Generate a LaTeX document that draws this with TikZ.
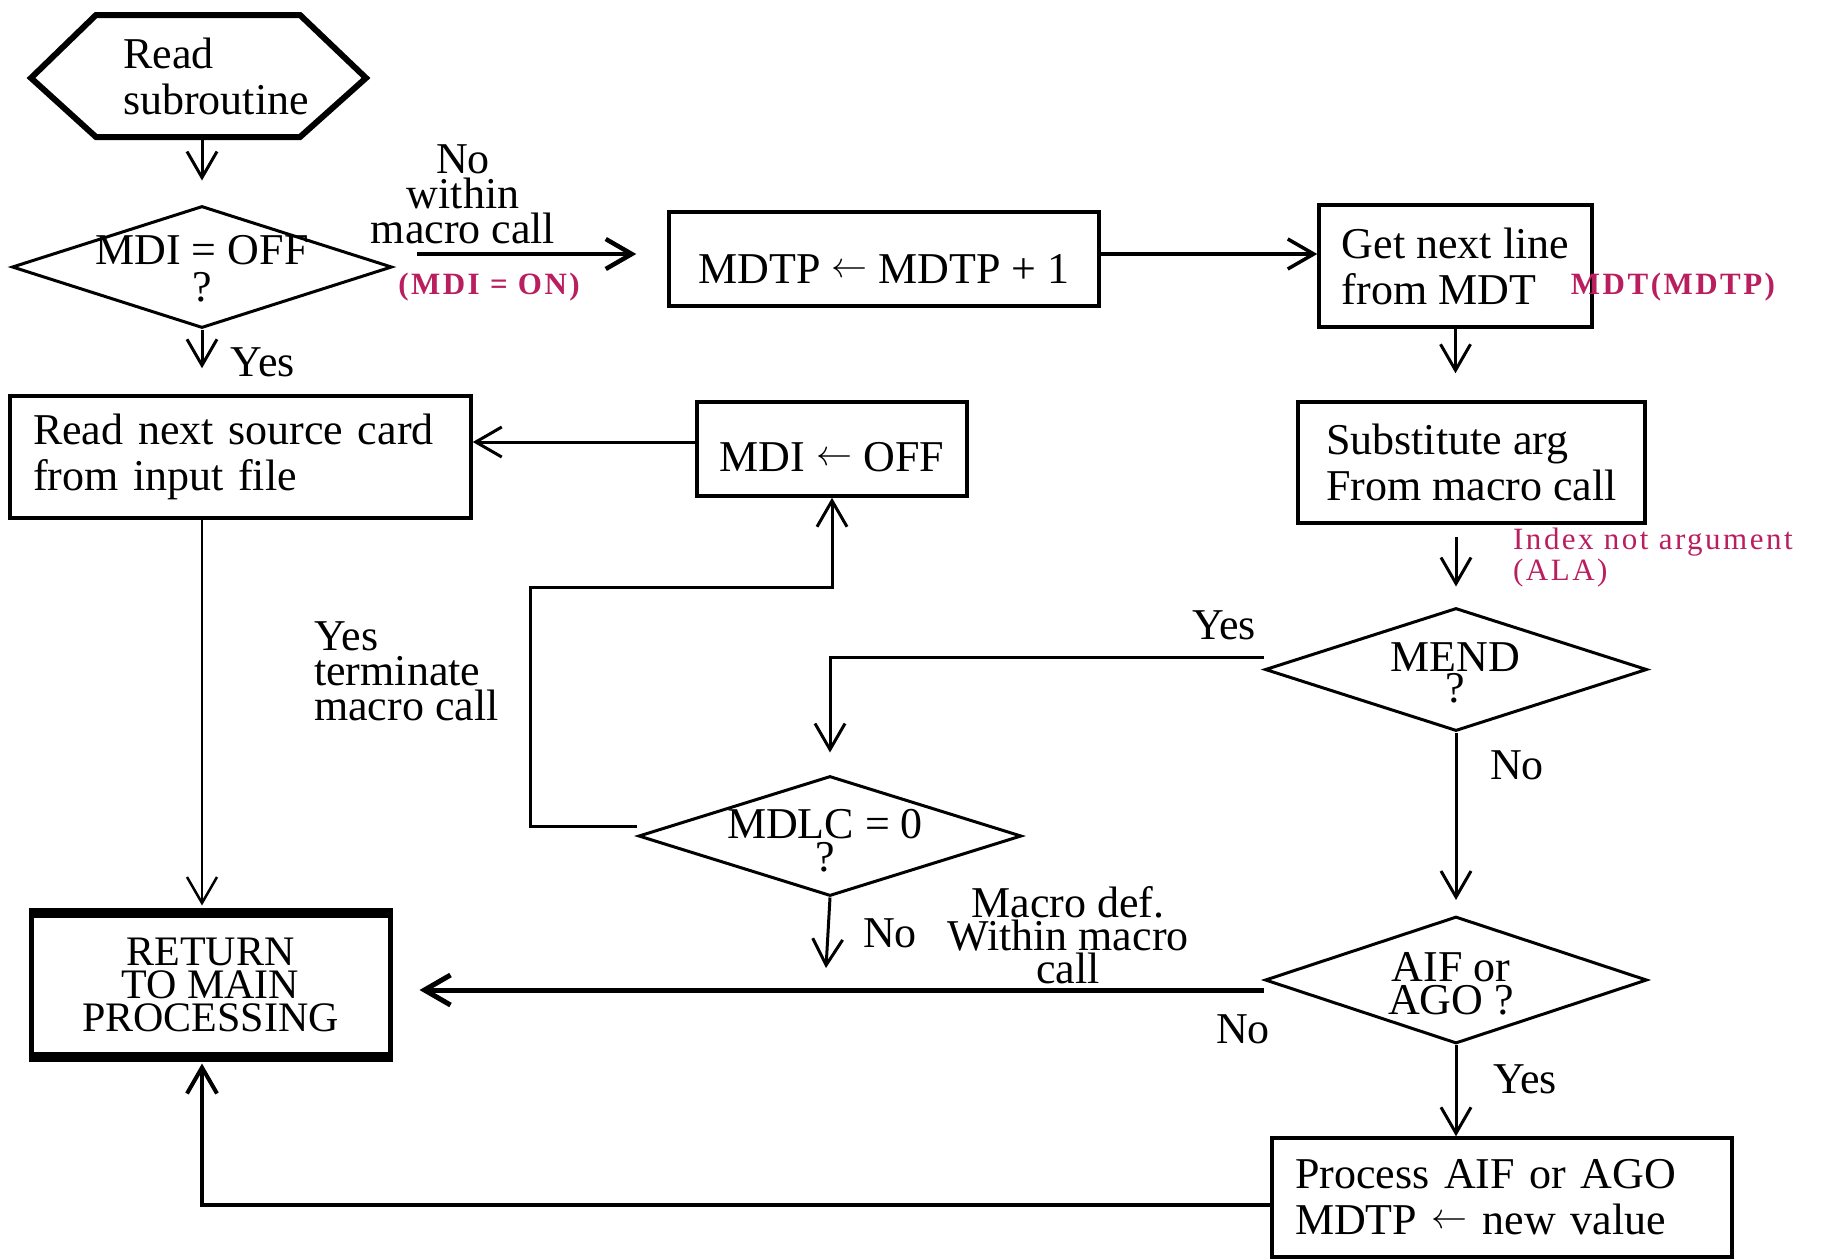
\documentclass[tikz,border=0pt]{standalone}
\usepackage{graphicx}
\usepackage{fontspec}
\setmainfont{Liberation Serif}
\usetikzlibrary{arrows.meta,shapes.geometric,calc}
\definecolor{redlab}{RGB}{185,30,95}
\newcommand{\larr}{\raisebox{6pt}{\resizebox{36pt}{!}{$\leftarrow$}}}
\begin{document}
\begin{tikzpicture}[x=1pt,y=-1pt,
  >={Straight Barb[length=26pt,width=30pt]},
  txt/.style={font=\fontsize{44}{46}\selectfont, align=center, inner sep=0pt},
  lbl/.style={font=\fontsize{44}{35}\selectfont, align=center, inner sep=0pt},
  redtxt/.style={font=\fontsize{31}{31}\selectfont\bfseries\addfontfeature{LetterSpace=8}, text=redlab, inner sep=0pt, align=left},
  box/.style={draw, line width=3.5pt, inner sep=0pt, font=\fontsize{44}{46}\selectfont, align=left},
  dia/.style={draw, diamond, line width=3pt, inner sep=0pt},
  conn/.style={draw, line width=3pt, ->},
]
\useasboundingbox (0,0) rectangle (1825,1259);

% start hexagon
\node[txt, align=left, minimum height=122pt] (hex) at (216,76) {Read\\subroutine};
\draw[line width=6pt, line join=miter] (31,78) -- (96,15) -- (300,15) -- (366,78) -- (300,137) -- (96,137) -- cycle;

% decisions
\node[dia, minimum width=380pt, minimum height=122pt] (d1) at (202,267) {};
\node[txt, font=\fontsize{44}{37}\selectfont] (d1t) at (202,269) {MDI = OFF\\?};

\node[dia, minimum width=382pt, minimum height=123pt] (mend) at (1456,669.5) {};
\node[txt, font=\fontsize{44}{31}\selectfont] (mendt) at (1455,673) {MEND\\?};

\node[dia, minimum width=383pt, minimum height=120pt] (mdlc) at (830,836) {};
\node[txt, font=\fontsize{44}{33}\selectfont] (mdlct) at (825,841) {MDLC = 0\\?};

\node[dia, minimum width=382pt, minimum height=127pt] (aif) at (1456,980) {};
\node[txt, font=\fontsize{44}{33}\selectfont] (aift) at (1451,984) {AIF or\\AGO ?};

% boxes
\node[box, minimum width=461pt, minimum height=122pt, text width=415pt, inner xsep=23pt] (readbox) at (240.5,457) {Read next source card\\from input file};
\node[box, minimum width=430pt, minimum height=94pt, align=center, text height=48pt, text depth=0pt] (mdtp) at (884,259) {MDTP \larr{} MDTP + 1};
\node[box, minimum width=273pt, minimum height=122pt] (getnext) at (1455.5,266) {Get next line\\from MDT};
\node[box, minimum width=347pt, minimum height=121pt] (subst) at (1471.5,462.5) {Substitute arg\\From macro call};
\node[box, minimum width=270pt, minimum height=94pt, align=center, text height=44pt, text depth=0pt] (mdibox) at (832,449) {MDI \larr{} OFF};
\node[box, line width=5pt, minimum width=359pt, minimum height=139pt, align=center, font=\fontsize{42}{33}\selectfont] (return) at (210.5,984.5) {RETURN\\TO MAIN\\PROCESSING};
\draw[line width=10pt] (return.north west) -- (return.north east);
\draw[line width=10pt] (return.south west) -- (return.south east);
\node[box, minimum width=460pt, minimum height=119pt, text width=414pt, inner xsep=23pt] (process) at (1502,1197.5) {Process AIF or AGO\\MDTP \larr{} new value};

% connectors
\draw[conn, shorten >=24pt] (d1.north |- hex.south) -- (d1.north);
\draw[conn, shorten >=26pt] (d1.south) -- (d1.south |- readbox.north);
\draw[conn, line width=4.5pt, shorten <=23pt, shorten >=31pt] ([yshift=5pt]d1.east |- mdtp.west) -- ([yshift=5pt]mdtp.west);
\draw[conn, line width=3.5pt] ([yshift=5pt]mdtp.east) -- ([yshift=5pt]mdtp.east -| getnext.west);
\draw[conn, shorten >=27pt] (getnext.south) -- (getnext.south |- subst.north);
\draw[conn, shorten <=12pt, shorten >=20pt] (subst.south -| mend.north) -- (mend.north);
\draw[conn, shorten >=22pt] ([yshift=12pt]mend.west) -| (mdlc.north);
\draw[conn, shorten >=15pt] (mend.south) -- (aif.north);
\coordinate (yesturn) at (530,587);
\draw[conn] ([yshift=10pt]mdlc.west) -| (yesturn) -| (mdibox.south);
\draw[conn] ([yshift=7pt]mdibox.west) -- ([yshift=7pt]mdibox.west -| readbox.east);
\coordinate (mdlcend) at (826,968);
\draw[conn] (mdlc.south) -- (mdlcend);
\draw[conn, line width=2.5pt, shorten >=7pt] (d1.south |- readbox.south) -- (d1.south |- return.north);
\draw[conn, line width=5pt, shorten >=27pt] ([yshift=-10pt]aif.west) -- ([yshift=-10pt]aif.west -| return.east);
\draw[conn] (aif.south) -- (aif.south |- process.north);
\draw[conn, line width=4pt, shorten >=7pt] ([yshift=-7pt]process.west) -| (d1.south |- return.south);

% labels
\node[lbl] (l1) at (463,194) {No\\within\\macro call};
\node[redtxt] (l2) at (489,287) {(MDI = ON)};
\node[lbl] (l3) at (263,362) {Yes};
\node[redtxt] (l4) at (1673,287) {MDT(MDTP)};
\node[redtxt, font=\fontsize{31}{31}\selectfont\addfontfeature{LetterSpace=8}, anchor=west] (l5) at (1513,558) {Index not argument\\(ALA)};
\node[lbl] (l6) at (1224,625) {Yes};
\node[lbl] (l7) at (1517,765) {No};
\node[lbl, align=left, anchor=west] (l8) at (314,671) {Yes\\terminate\\macro call};
\node[lbl] (l9) at (890,933) {No};
\node[lbl, font=\fontsize{44}{33}\selectfont] (l10) at (1068,935) {Macro def.\\Within macro\\call};
\node[lbl] (l11) at (1243,1029) {No};
\node[lbl] (l12) at (1525,1079) {Yes};
\end{tikzpicture}
\end{document}
